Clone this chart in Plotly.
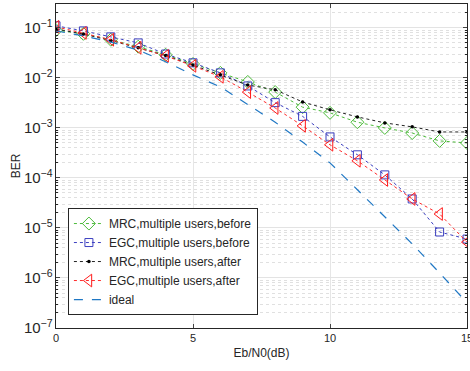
import plotly.graph_objects as go

snr = list(range(16))
mrc_before = [0.09, 0.076, 0.058, 0.042, 0.029, 0.019, 0.0126, 0.0083, 0.0052, 0.0026,
              0.002, 0.0013, 0.001, 0.00079, 0.00055, 0.0005]
egc_before = [0.11, 0.087, 0.066, 0.05, 0.030, 0.020, 0.0126, 0.0069, 0.0032, 0.0017,
              0.00066, 0.00029, 0.000115, 3.8e-5, 8.3e-6, 6e-6]
mrc_after = [0.095, 0.075, 0.056, 0.04, 0.028, 0.018, 0.0115, 0.0072, 0.0058, 0.0033,
             0.0023, 0.00166, 0.00126, 0.00105, 0.00083, 0.00083]
egc_after = [0.105, 0.079, 0.058, 0.04, 0.0275, 0.0174, 0.0105, 0.0052, 0.0025, 0.0011,
             0.00046, 0.00022, 9.1e-5, 3.8e-5, 1.9e-5, 5.2e-6]
ideal = [0.087, 0.069, 0.052, 0.036, 0.021, 0.0115, 0.0066, 0.0029, 0.0013, 5.2e-4,
         2.0e-4, 5.8e-5, 1.66e-5, 4.8e-6, 1.26e-6, 3.2e-7]
x_ticks = [0, 5, 10, 15]

fig = go.Figure()
fig.add_trace(go.Scatter(x=snr, y=mrc_before, mode="lines+markers",
                         name="MRC,multiple users,before",
                         line=dict(color="#4cbb3a", width=1, dash="dot"),
                         marker=dict(symbol="diamond-open", size=10, color="#4cbb3a", line=dict(width=1))))
fig.add_trace(go.Scatter(x=snr, y=egc_before, mode="lines+markers",
                         name="EGC,multiple users,before",
                         line=dict(color="#3b3fc0", width=1, dash="dot"),
                         marker=dict(symbol="square-open", size=8, color="#3b3fc0", line=dict(width=1))))
fig.add_trace(go.Scatter(x=snr, y=mrc_after, mode="lines+markers",
                         name="MRC,multiple users,after",
                         line=dict(color="#222222", width=1, dash="dot"),
                         marker=dict(symbol="circle", size=3.5, color="#000000")))
fig.add_trace(go.Scatter(x=snr, y=egc_after, mode="lines+markers",
                         name="EGC,multiple users,after",
                         line=dict(color="#ff2a2a", width=1, dash="dot"),
                         marker=dict(symbol="triangle-left-open", size=11, color="#ff1a1a", line=dict(width=1))))
fig.add_trace(go.Scatter(x=snr, y=ideal, mode="lines", name="ideal",
                         line=dict(color="#1f77c4", width=1.2, dash="dash")))

fig.update_layout(
    width=470, height=371,
    margin=dict(l=56, r=3, t=4, b=43),
    paper_bgcolor="white", plot_bgcolor="white",
    font=dict(family="Liberation Sans, Arial", size=11, color="#262626"),
    showlegend=True,
    legend=dict(x=0.029, y=0.04, xanchor="left", yanchor="bottom",
                bgcolor="white", bordercolor="#262626", borderwidth=1,
                font=dict(size=12, color="#262626"), tracegroupgap=0,
                itemwidth=30),
)
fig.update_xaxes(range=[0, 15], tickvals=x_ticks, ticks="inside", ticklen=4,
                 showline=True, linecolor="#262626", linewidth=1, mirror="allticks",
                 showgrid=True, gridcolor="#e6e6e6", zeroline=False, automargin=False,
                 ticklabeloverflow="allow",
                 title=dict(text="Eb/N0(dB)", font=dict(size=12), standoff=5))
fig.update_yaxes(type="log", range=[-7, -0.523], dtick=1, exponentformat="power",
                 ticks="inside", ticklen=4, automargin=False,
                 showline=True, linecolor="#262626", linewidth=1, mirror="allticks",
                 showgrid=True, gridcolor="#e3e3e3", zeroline=False,
                 tickfont=dict(size=12),
                 minor=dict(ticks="inside", ticklen=2, tickcolor="#262626",
                            showgrid=True, gridcolor="#e0e0e0", griddash="dot"),
                 title=dict(text="BER", font=dict(size=12), standoff=0))

fig.write_html("out.html", config={"displayModeBar": False},
               post_script="document.body.style.margin='0';document.body.style.overflow='hidden';")
